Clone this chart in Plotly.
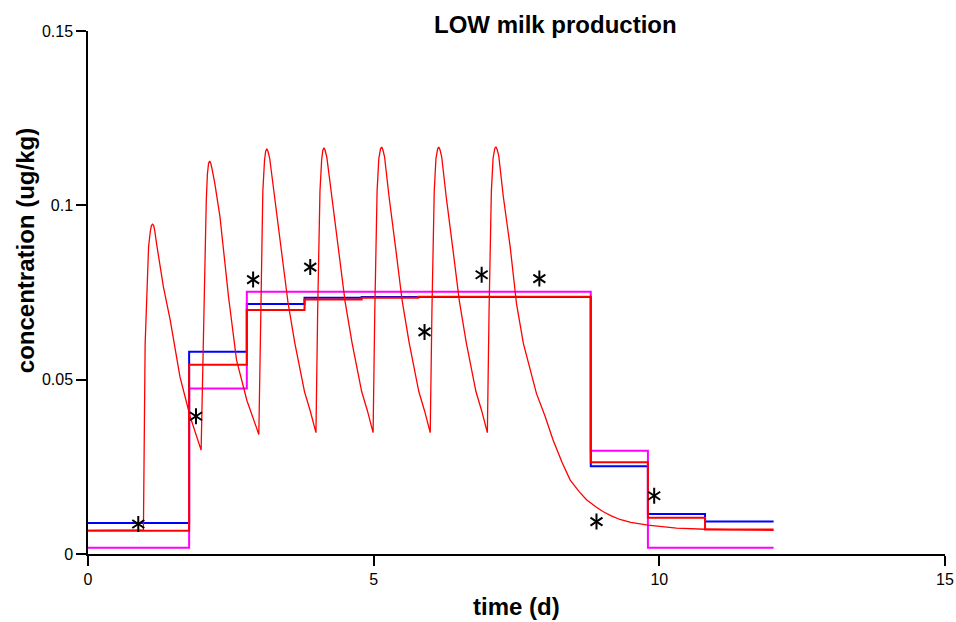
import plotly.graph_objects as go

# ---- data ----
step_t = [0, 1.77, 2.78, 3.79, 4.79, 5.78, 8.80, 9.80, 10.80, 12.0]
blue_vals = [0.0089, 0.0580, 0.0717, 0.0735, 0.0737, 0.0737, 0.0252, 0.0115, 0.0093, 0.0093]
red_vals = [0.0067, 0.0543, 0.0700, 0.0730, 0.0735, 0.0738, 0.0263, 0.0104, 0.0070, 0.0070]
magenta_vals = [0.0018, 0.0475, 0.0752, 0.0752, 0.0752, 0.0752, 0.0296, 0.0018, 0.0018, 0.0018]

curve_t = [0, 0.97, 1.00, 1.06, 1.09, 1.11, 1.13, 1.15, 1.17, 1.20, 1.32, 1.44, 1.61, 1.79, 1.98,
           2.03, 2.07, 2.09, 2.11, 2.13, 2.15, 2.17, 2.22, 2.31, 2.46, 2.60, 2.78, 2.99,
           3.02, 3.06, 3.09, 3.11, 3.13, 3.15, 3.18, 3.27, 3.39, 3.50, 3.62, 3.79, 3.89, 3.99,
           4.02, 4.06, 4.09, 4.11, 4.13, 4.15, 4.18, 4.27, 4.39, 4.50, 4.62, 4.79, 4.89, 4.99,
           5.02, 5.06, 5.09, 5.12, 5.14, 5.16, 5.19, 5.27, 5.39, 5.50, 5.62, 5.79, 5.89, 5.99,
           6.02, 6.06, 6.09, 6.12, 6.14, 6.16, 6.19, 6.27, 6.39, 6.50, 6.62, 6.79, 6.89, 6.99,
           7.02, 7.06, 7.09, 7.12, 7.14, 7.16, 7.19, 7.27, 7.39, 7.50, 7.62, 7.85, 8.00, 8.14,
           8.30, 8.44, 8.60, 8.73, 8.90, 9.02, 9.15, 9.31, 9.50, 9.80, 10.30, 10.80,
           11.50, 12.0]
curve_c = [0.0068, 0.0069, 0.0600, 0.0880, 0.0925, 0.0942, 0.0946, 0.0942, 0.0925, 0.0890, 0.0766, 0.0670, 0.0508, 0.0393, 0.0298,
           0.0728, 0.1014, 0.1090, 0.1120, 0.1127, 0.1120, 0.1105, 0.1062, 0.0967, 0.0737, 0.0556, 0.0441, 0.0343,
           0.0700, 0.1040, 0.1130, 0.1155, 0.1162, 0.1155, 0.1135, 0.1020, 0.0868, 0.0722, 0.0605, 0.0465, 0.0410, 0.0348,
           0.0700, 0.1040, 0.1132, 0.1158, 0.1165, 0.1158, 0.1138, 0.1023, 0.0870, 0.0724, 0.0607, 0.0466, 0.0411, 0.0348,
           0.0700, 0.1040, 0.1134, 0.1162, 0.1167, 0.1160, 0.1140, 0.1024, 0.0870, 0.0725, 0.0607, 0.0466, 0.0411, 0.0348,
           0.0700, 0.1040, 0.1134, 0.1162, 0.1167, 0.1160, 0.1140, 0.1024, 0.0870, 0.0725, 0.0607, 0.0466, 0.0411, 0.0348,
           0.0700, 0.1040, 0.1135, 0.1163, 0.1168, 0.1161, 0.1141, 0.1024, 0.0880, 0.0718, 0.0604, 0.0460, 0.0395, 0.0327,
           0.0262, 0.0212, 0.0178, 0.0155, 0.0134, 0.0121, 0.0110, 0.0099, 0.0091, 0.0083, 0.0074, 0.0071,
           0.0069, 0.0068]

obs_t = [0.88, 1.89, 2.89, 3.89, 5.89, 6.89, 7.90, 8.90, 9.91]
obs_c = [0.0086, 0.0395, 0.0787, 0.0823, 0.0637, 0.0801, 0.0790, 0.0093, 0.0167]

x_ticks = [0, 5, 10, 15]
y_ticks = [0, 0.05, 0.1, 0.15]
y_ticklabels = ["0", "0.05", "0.1", "0.15"]

FONT = "Liberation Sans, Arial, sans-serif"

fig = go.Figure()
fig.add_trace(go.Scatter(x=step_t, y=blue_vals, mode="lines", line=dict(color="#0000FF", width=2, shape="hv")))
fig.add_trace(go.Scatter(x=step_t, y=magenta_vals, mode="lines", line=dict(color="#FF00FF", width=2, shape="hv")))
fig.add_trace(go.Scatter(x=step_t, y=red_vals, mode="lines", line=dict(color="#FF0000", width=2, shape="hv")))
fig.add_trace(go.Scatter(x=curve_t, y=curve_c, mode="lines", line=dict(color="#FF0000", width=1.3)))
for sym in ["y-up", "y-down"]:
    fig.add_trace(go.Scatter(x=obs_t, y=obs_c, mode="markers",
                             marker=dict(symbol=sym, size=10, color="black",
                                         line=dict(width=2, color="black"))))

fig.update_layout(
    width=956, height=622,
    margin=dict(l=88, r=11, t=31, b=68, autoexpand=False),
    paper_bgcolor="white", plot_bgcolor="white",
    showlegend=False,
    font=dict(family=FONT, size=16, color="black"),
    xaxis=dict(range=[0, 15], tickvals=x_ticks, showgrid=False, zeroline=False, automargin=False,
               showline=True, linecolor="black", linewidth=1.5,
               ticks="outside", ticklen=10, tickwidth=1.5, tickcolor="black",
               tickfont=dict(size=16)),
    yaxis=dict(range=[0, 0.15], tickvals=y_ticks, ticktext=y_ticklabels, showgrid=False, zeroline=False,
               automargin=False,
               showline=True, linecolor="black", linewidth=1.5,
               ticks="outside", ticklen=10, tickwidth=1.5, tickcolor="black",
               tickfont=dict(size=16)),
    annotations=[
        dict(text="<b>LOW milk production</b>", x=0.545, y=1.013, xref="paper", yref="paper",
             xanchor="center", yanchor="middle", showarrow=False, font=dict(size=24)),
        dict(text="<b>time (d)</b>", x=0.5, y=-0.101, xref="paper", yref="paper",
             xanchor="center", yanchor="middle", showarrow=False, font=dict(size=24)),
        dict(text="<b>concentration (ug/kg)</b>", x=-0.0735, y=0.579, xref="paper", yref="paper",
             xanchor="center", yanchor="middle", showarrow=False, textangle=-90, font=dict(size=24)),
    ],
)

fig.write_html("out.html")
